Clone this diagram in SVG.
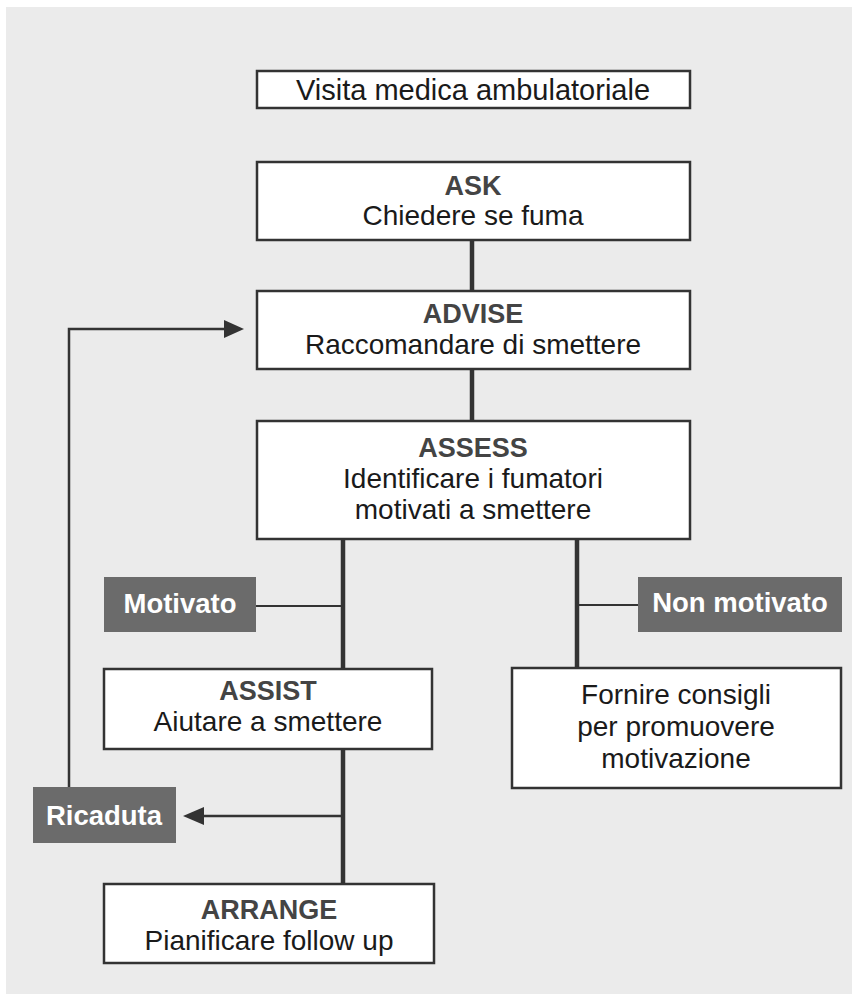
<svg xmlns="http://www.w3.org/2000/svg" width="852" height="994" viewBox="0 0 852 994">
<defs>
<style>
.box{fill:#ffffff;stroke:#333333;stroke-width:2.5}
.lab{fill:#6b6b6b}
.t{font-family:"Liberation Sans",Arial,sans-serif;text-anchor:middle}
.title{font-size:27px;font-weight:bold;fill:#444444}
.body{font-size:28px;fill:#1a1a1a}
.lt{font-size:27.5px;font-weight:bold;fill:#ffffff}
.thick{stroke:#333333;stroke-width:4.5;fill:none}
.thin{stroke:#333333;stroke-width:2;fill:none}
.mid{stroke:#333333;stroke-width:2.5;fill:none}
</style>
<marker id="arr" viewBox="0 0 10 10" refX="10" refY="5" markerWidth="8" markerHeight="7" markerUnits="userSpaceOnUse" orient="auto">
<path d="M0,0 L10,5 L0,10 z" fill="#333333"/>
</marker>
</defs>
<rect x="0" y="0" width="852" height="994" fill="#ffffff"/>
<rect x="6" y="7" width="846" height="987" fill="#ebebeb"/>

<g id="connectors">
<line class="thick" x1="472" y1="240" x2="472" y2="291"/>
<line class="thick" x1="472" y1="369" x2="472" y2="421"/>
<line class="thick" x1="343" y1="539" x2="343" y2="668"/>
<line class="thick" x1="577" y1="539" x2="577" y2="668"/>
<line class="thin" x1="256" y1="606" x2="343" y2="606"/>
<line class="thin" x1="577" y1="605" x2="638" y2="605"/>
<line class="thick" x1="343" y1="749" x2="343" y2="884"/>
<line class="mid" x1="343" y1="816" x2="203" y2="816"/>
<polygon points="183,816 204,807 204,825" fill="#333333"/>
<polyline class="mid" points="69,787 69,329 226,329"/>
<polygon points="244,329 224,320 224,338" fill="#333333"/>
</g>

<g id="visita">
<rect class="box" x="257" y="71" width="433" height="37"/>
<text class="t body" x="473" y="100" font-size="29" style="font-size:29px">Visita medica ambulatoriale</text>
</g>

<g id="ask">
<rect class="box" x="257" y="162" width="433" height="78"/>
<text class="t title" x="473" y="195">ASK</text>
<text class="t body" x="473" y="225">Chiedere se fuma</text>
</g>

<g id="advise">
<rect class="box" x="257" y="291" width="433" height="78"/>
<text class="t title" x="473" y="323">ADVISE</text>
<text class="t body" x="473" y="354">Raccomandare di smettere</text>
</g>

<g id="assess">
<rect class="box" x="257" y="421" width="433" height="118"/>
<text class="t title" x="473" y="457">ASSESS</text>
<text class="t body" x="473" y="488">Identificare i fumatori</text>
<text class="t body" x="473" y="519">motivati a smettere</text>
</g>

<g id="motivato">
<rect class="lab" x="104" y="577" width="152" height="55"/>
<text class="t lt" x="180" y="613">Motivato</text>
</g>

<g id="non-motivato">
<rect class="lab" x="638" y="577" width="204" height="55"/>
<text class="t lt" x="740" y="612">Non motivato</text>
</g>

<g id="assist">
<rect class="box" x="104" y="669" width="328" height="80"/>
<text class="t title" x="268" y="700">ASSIST</text>
<text class="t body" x="268" y="731">Aiutare a smettere</text>
</g>

<g id="fornire">
<rect class="box" x="512" y="668" width="329" height="120"/>
<text class="t body" x="676" y="704">Fornire consigli</text>
<text class="t body" x="676" y="736">per promuovere</text>
<text class="t body" x="676" y="768">motivazione</text>
</g>

<g id="ricaduta">
<rect class="lab" x="33" y="787" width="143" height="56"/>
<text class="t lt" x="104" y="825">Ricaduta</text>
</g>

<g id="arrange">
<rect class="box" x="104" y="884" width="330" height="79"/>
<text class="t title" x="269" y="919">ARRANGE</text>
<text class="t body" x="269" y="950">Pianificare follow up</text>
</g>
</svg>
